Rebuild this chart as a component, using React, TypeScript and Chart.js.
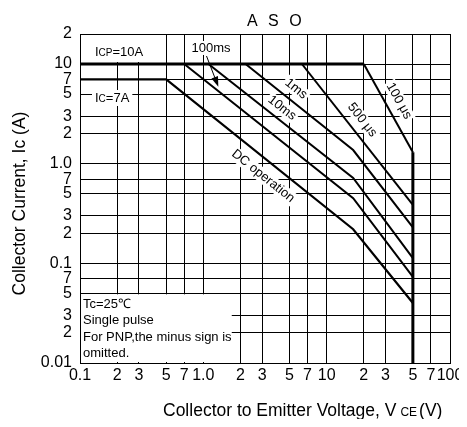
import { useEffect, useRef } from "react";
import { Chart, registerables } from "chart.js";

Chart.register(...registerables);

const FONT = "'Liberation Sans', Arial, Helvetica, sans-serif";

// Tick values and labels
const xTickValues = [0.1, 0.2, 0.3, 0.5, 0.7, 1, 2, 3, 5, 7, 10, 20, 30, 50, 70, 100];
const xTickLabels = ["0.1", "2", "3", "5", "7", "1.0", "2", "3", "5", "7", "10", "2", "3", "5", "7", "100"];
const yTickValues = [0.01, 0.02, 0.03, 0.05, 0.07, 0.1, 0.2, 0.3, 0.5, 0.7, 1, 2, 3, 5, 7, 10, 20];
const yTickLabels = ["0.01", "2", "3", "5", "7", "0.1", "2", "3", "5", "7", "1.0", "2", "3", "5", "7", "10", "2"];

// Safe operating area curves (VCE [V], IC [A])
const icpLimit = [{ x: 0.1, y: 10 }, { x: 20, y: 10 }];
const vceoLimit = [{ x: 50, y: 1.3 }, { x: 50, y: 0.01 }];
const pulse100us = [{ x: 20, y: 10 }, { x: 50, y: 1.3 }];
const pulse500us = [{ x: 6.3, y: 10 }, { x: 50, y: 0.385 }];
const pulse1ms = [{ x: 2.2, y: 10 }, { x: 16.4, y: 1.37 }, { x: 50, y: 0.23 }];
const pulse10ms = [{ x: 1.1, y: 10 }, { x: 16.4, y: 0.72 }, { x: 50, y: 0.113 }];
const pulse100ms = [{ x: 0.7, y: 10 }, { x: 16.4, y: 0.45 }, { x: 50, y: 0.073 }];
const dcOperation = [{ x: 0.1, y: 7 }, { x: 0.5, y: 7 }, { x: 16.4, y: 0.22 }, { x: 50, y: 0.04 }];

// Curve labels (anchored in data space)
const curveLabels = ["100 μs", "500 μs", "1ms", "10ms", "DC operation"];
const curveLabelX = [38.6, 19.4, 5.64, 4.34, 3.05];
const curveLabelY = [4.26, 2.74, 5.62, 3.62, 0.75];
const curveLabelSegments = [
  [pulse100us[0], pulse100us[1]],
  [pulse500us[0], pulse500us[1]],
  [pulse1ms[0], pulse1ms[1]],
  [pulse10ms[0], pulse10ms[1]],
  [dcOperation[1], dcOperation[2]],
];

const noteLines = ["Tc=25℃", "Single pulse", "For PNP,the minus sign is", "omitted."];

const asoPlugin = {
  id: "asoDecor",
  afterDatasetsDraw(chart: any) {
    const { ctx } = chart;
    const sx = chart.scales.x;
    const sy = chart.scales.y;
    const px = (v: number) => sx.getPixelForValue(v);
    const py = (v: number) => sy.getPixelForValue(v);
    ctx.save();

    // Note box (bottom-left)
    const bx0 = px(0.1) + 1;
    const bx1 = px(1.7);
    const by0 = py(0.05) + 1;
    const by1 = py(0.01) - 1;
    ctx.fillStyle = "#fff";
    ctx.fillRect(bx0, by0, bx1 - bx0, by1 - by0);
    ctx.fillStyle = "#000";
    ctx.font = `13px ${FONT}`;
    ctx.textAlign = "left";
    ctx.textBaseline = "middle";
    noteLines.forEach((t, i) => ctx.fillText(t, bx0 + 2, by0 + 10 + i * 16.3));

    // ICP=10A label
    const ix0 = px(0.1) + 1;
    ctx.fillStyle = "#fff";
    ctx.fillRect(ix0, py(20) + 1, px(0.45) - ix0, py(10) - py(20) - 3);
    const drawSubLabel = (x: number, yc: number, main: string, sub: string, rest: string) => {
      const base = yc + 4.5;
      ctx.textBaseline = "alphabetic";
      ctx.textAlign = "left";
      ctx.font = `13px ${FONT}`;
      const w1 = ctx.measureText(main).width;
      ctx.font = `10px ${FONT}`;
      const w2 = ctx.measureText(sub).width;
      ctx.font = `13px ${FONT}`;
      const w3 = ctx.measureText(rest).width;
      ctx.fillStyle = "#fff";
      ctx.fillRect(x - 3, yc - 8, w1 + w2 + w3 + 6, 16);
      ctx.fillStyle = "#000";
      ctx.font = `13px ${FONT}`;
      ctx.fillText(main, x, base);
      ctx.font = `10px ${FONT}`;
      ctx.fillText(sub, x + w1, base);
      ctx.font = `13px ${FONT}`;
      ctx.fillText(rest, x + w1 + w2, base);
    };
    drawSubLabel(px(0.1323), py(13.2), "I", "CP", "=10A");
    drawSubLabel(px(0.1323), py(4.56), "I", "C", "=7A");

    // 100ms label with arrow
    ctx.font = `13px ${FONT}`;
    ctx.textAlign = "center";
    ctx.textBaseline = "middle";
    const lx = px(1.154);
    const ly = py(14.48);
    const lw = ctx.measureText("100ms").width;
    ctx.fillStyle = "#fff";
    ctx.fillRect(lx - lw / 2 - 2, ly - 7, lw + 4, 14);
    ctx.fillStyle = "#000";
    ctx.fillText("100ms", lx, ly);
    const ax0 = px(1.061), ay0 = py(12.03);
    const ax1 = px(1.323), ay1 = py(5.92);
    const ang = Math.atan2(ay1 - ay0, ax1 - ax0);
    ctx.strokeStyle = "#000";
    ctx.lineWidth = 1;
    ctx.beginPath();
    ctx.moveTo(ax0, ay0);
    ctx.lineTo(ax1 - 8 * Math.cos(ang), ay1 - 8 * Math.sin(ang));
    ctx.stroke();
    ctx.beginPath();
    ctx.moveTo(ax1, ay1);
    ctx.lineTo(ax1 - 10 * Math.cos(ang) + 3.5 * Math.sin(ang), ay1 - 10 * Math.sin(ang) - 3.5 * Math.cos(ang));
    ctx.lineTo(ax1 - 10 * Math.cos(ang) - 3.5 * Math.sin(ang), ay1 - 10 * Math.sin(ang) + 3.5 * Math.cos(ang));
    ctx.closePath();
    ctx.fill();

    // Rotated curve labels
    curveLabels.forEach((text, i) => {
      const [a, b] = curveLabelSegments[i];
      const angle = Math.atan2(py(b.y) - py(a.y), px(b.x) - px(a.x));
      const cx = px(curveLabelX[i]);
      const cy = py(curveLabelY[i]);
      ctx.save();
      ctx.translate(cx, cy);
      ctx.rotate(angle);
      ctx.font = `13px ${FONT}`;
      const w = ctx.measureText(text).width;
      ctx.fillStyle = "#fff";
      ctx.fillRect(-w / 2 - 2, -7, w + 4, 14);
      ctx.fillStyle = "#000";
      ctx.textAlign = "center";
      ctx.textBaseline = "middle";
      ctx.fillText(text, 0, 0);
      ctx.restore();
    });

    ctx.restore();
  },
  afterDraw(chart: any) {
    const { ctx } = chart;
    ctx.save();
    ctx.fillStyle = "#000";
    // Title
    ctx.font = `16px ${FONT}`;
    (ctx as any).letterSpacing = "3px";
    ctx.textAlign = "left";
    ctx.textBaseline = "alphabetic";
    ctx.fillText("A S O", 239, 17.5);
    (ctx as any).letterSpacing = "0px";

    // Y axis title
    ctx.save();
    ctx.translate(17, 195.5);
    ctx.rotate(-Math.PI / 2);
    ctx.font = `17.5px ${FONT}`;
    ctx.textAlign = "center";
    ctx.textBaseline = "alphabetic";
    ctx.fillText("Collector Current, Ic (A)", 0, 0);
    ctx.restore();

    // X axis title
    const base = 407.5;
    let x = 155;
    ctx.textAlign = "left";
    ctx.textBaseline = "alphabetic";
    ctx.font = `17.5px ${FONT}`;
    const t1 = "Collector to Emitter Voltage, V";
    ctx.fillText(t1, x, base);
    x += ctx.measureText(t1).width + 4;
    ctx.font = `12px ${FONT}`;
    ctx.fillText("CE", x, base);
    x += ctx.measureText("CE").width + 2;
    ctx.font = `17.5px ${FONT}`;
    ctx.fillText("(V)", x, base);
    ctx.restore();
  },
};

export default function App() {
  const canvasRef = useRef<HTMLCanvasElement | null>(null);

  useEffect(() => {
    if (!canvasRef.current) return;
    const mk = (data: any[], width: number) => ({
      data,
      showLine: true,
      borderColor: "#000",
      backgroundColor: "#000",
      borderWidth: width,
      pointRadius: 0,
      fill: false,
      tension: 0,
    });
    const chart = new Chart(canvasRef.current, {
      type: "scatter",
      data: {
        datasets: [
          mk(icpLimit, 3),
          mk(vceoLimit, 3),
          mk(pulse100us, 2),
          mk(pulse500us, 2),
          mk(pulse1ms, 2),
          mk(pulse10ms, 2),
          mk(pulse100ms, 2),
          mk(dcOperation, 2.2),
        ],
      },
      options: {
        animation: false,
        responsive: true,
        maintainAspectRatio: false,
        layout: { padding: { left: 0, right: 9, top: 26, bottom: 0 } },
        plugins: {
          legend: { display: false },
          tooltip: { enabled: false },
          title: { display: false },
        },
        scales: {
          x: {
            type: "logarithmic",
            min: 0.1,
            max: 100,
            afterBuildTicks: (s: any) => {
              s.ticks = xTickValues.map((v) => ({ value: v }));
            },
            afterFit: (s: any) => {
              s.height = 64;
              s.paddingLeft = 0;
              s.paddingRight = 0;
            },
            ticks: {
              autoSkip: false,
              maxRotation: 0,
              minRotation: 0,
              padding: 3,
              color: "#000",
              font: { family: FONT, size: 16 },
              callback: (_v: any, i: number) => xTickLabels[i],
            },
            grid: { color: "#000", lineWidth: 1, drawTicks: false },
            border: { color: "#000", width: 1 },
          },
          y: {
            type: "logarithmic",
            min: 0.01,
            max: 20,
            afterBuildTicks: (s: any) => {
              s.ticks = yTickValues.map((v) => ({ value: v }));
            },
            afterFit: (s: any) => {
              s.width = 72;
              s.paddingTop = 0;
              s.paddingBottom = 0;
            },
            ticks: {
              autoSkip: false,
              padding: 8,
              color: "#000",
              font: { family: FONT, size: 16 },
              callback: (_v: any, i: number) => yTickLabels[i],
            },
            grid: { color: "#000", lineWidth: 1, drawTicks: false },
            border: { color: "#000", width: 1 },
          },
        },
      } as any,
      plugins: [asoPlugin],
    });
    return () => chart.destroy();
  }, []);

  return (
    <div style={{ position: "relative", width: 451, height: 419, marginBottom: -8 }}>
      <canvas ref={canvasRef} />
    </div>
  );
}
